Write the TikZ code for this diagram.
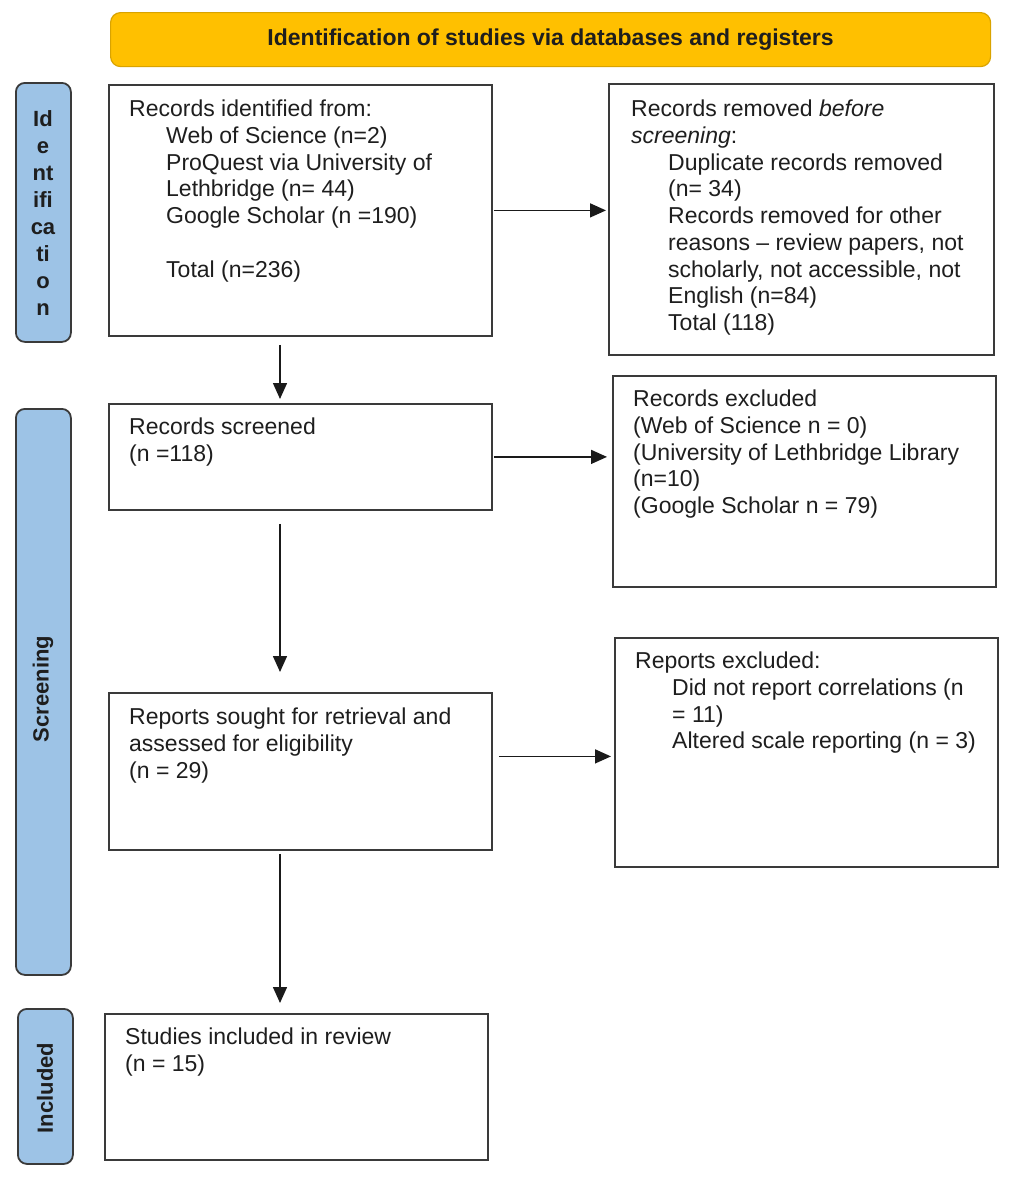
\documentclass[tikz,border=0pt]{standalone}
\usepackage{fontspec}
\setmainfont{Liberation Sans}
\usetikzlibrary{arrows.meta,calc}
\definecolor{gold}{HTML}{FFC000}
\definecolor{goldline}{HTML}{D9A300}
\definecolor{side}{HTML}{9DC3E6}
\definecolor{edge}{HTML}{3A3A3A}
\definecolor{arrowc}{HTML}{1A1A1A}
\definecolor{ink}{HTML}{1E1E1E}
\tikzset{
  box/.style={draw=edge, line width=1.8pt, fill=white, anchor=north west, inner sep=0pt},
  sidebox/.style={draw=edge, line width=1.8pt, fill=side, rounded corners=9pt, anchor=north west, inner sep=0pt},
  txt/.style={anchor=north west, inner sep=0pt, align=left, text=ink, font=\fontsize{23}{26.7}\selectfont},
  sidetxt/.style={inner sep=0pt, align=center, text=ink, font=\fontsize{22}{27}\selectfont\bfseries},
  arr/.style={draw=arrowc, line width=1.5pt, -{Triangle[length=16pt,width=14pt]}},
}
\newcommand{\ind}{\hspace*{37pt}}
\begin{document}
\begin{tikzpicture}[x=1pt,y=-1pt]
\useasboundingbox (0,0) rectangle (1010,1183);
% banner
\node[draw=goldline, line width=1.2pt, fill=gold, rounded corners=10pt, anchor=north west,
      minimum width=880pt, minimum height=54pt, inner sep=0pt,
      font=\fontsize{23}{26}\selectfont\bfseries, text=ink] (banner) at (110,12)
      {Identification of studies via databases and registers};
% side labels
\node[sidebox, minimum width=55pt, minimum height=259pt] (sideid) at (15,82) {};
\node[sidetxt] (sideidtxt) at (43,213) {Id\\e\\nt\\ifi\\ca\\ti\\o\\n};
\node[sidebox, minimum width=55pt, minimum height=566pt] (sidescr) at (15,408) {};
\node[sidetxt, rotate=90] (sidescrtxt) at (43,689) {Screening};
\node[sidebox, minimum width=55pt, minimum height=155pt] (sideinc) at (17,1008) {};
\node[sidetxt, rotate=90] (sideinctxt) at (45,1088) {Included};
% boxes
\node[box, minimum width=383pt, minimum height=251pt] (b1) at (108,84) {};
\node[box, minimum width=385pt, minimum height=271pt] (b2) at (608,83) {};
\node[box, minimum width=383pt, minimum height=106pt] (b3) at (108,403) {};
\node[box, minimum width=383pt, minimum height=211pt] (b4) at (612,375) {};
\node[box, minimum width=383pt, minimum height=157pt] (b5) at (108,692) {};
\node[box, minimum width=383pt, minimum height=229pt] (b6) at (614,637) {};
\node[box, minimum width=383pt, minimum height=146pt] (b7) at (104,1013) {};
% texts
\node[txt] (t1) at (129,100) {Records identified from:\\
\ind Web of Science (n=2)\\
\ind ProQuest via University of\\
\ind Lethbridge (n= 44)\\
\ind Google Scholar (n =190)\\
\mbox{}\\
\ind Total (n=236)};
\node[txt] (t2) at (631,100) {Records removed \textit{before}\\
\textit{screening}:\\
\ind Duplicate records removed\\
\ind (n= 34)\\
\ind Records removed for other\\
\ind reasons -- review papers, not\\
\ind scholarly, not accessible, not\\
\ind English (n=84)\\
\ind Total (118)};
\node[txt] (t3) at (129,418) {Records screened\\(n =118)};
\node[txt] (t4) at (633,390) {Records excluded\\
(Web of Science n = 0)\\
(University of Lethbridge Library\\
(n=10)\\
(Google Scholar n = 79)};
\node[txt] (t5) at (129,708) {Reports sought for retrieval and\\
assessed for eligibility\\
(n = 29)};
\node[txt] (t6) at (635,652) {Reports excluded:\\
\ind Did not report correlations (n\\
\ind = 11)\\
\ind Altered scale reporting (n = 3)};
\node[txt] (t7) at (125,1028) {Studies included in review\\(n = 15)};
% connectors
\coordinate (ax) at (280,0);
\draw[arr, shorten <=1pt, shorten >=2pt] (b1.east) -- (b1.east -| b2.west);
\draw[arr, shorten <=8pt, shorten >=4pt] (b1.south -| ax) -- (b3.north -| ax);
\draw[arr, shorten <=1pt, shorten >=5pt] (b3.east) -- (b3.east -| b4.west);
\draw[arr, shorten <=13pt, shorten >=20pt] (b3.south -| ax) -- (b5.north -| ax);
\draw[arr, shorten <=6pt, shorten >=3pt] ([yshift=15pt]b5.east) -- ([yshift=15pt]b5.east -| b6.west);
\draw[arr, shorten <=3pt, shorten >=10pt] (b5.south -| ax) -- (b7.north -| ax);
\end{tikzpicture}
\end{document}
